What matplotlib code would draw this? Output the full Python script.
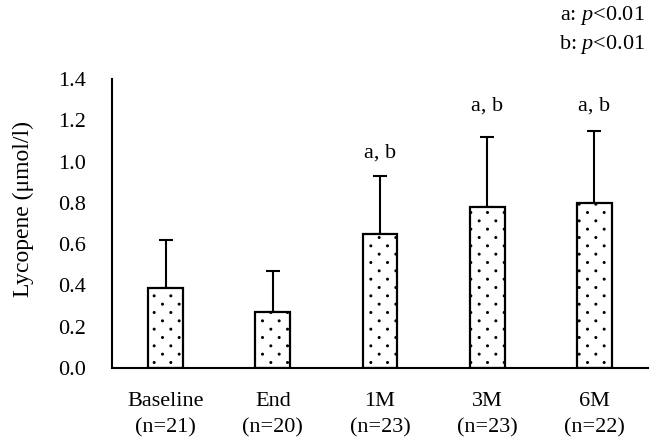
import matplotlib
matplotlib.use("Agg")
import matplotlib.pyplot as plt
import matplotlib.hatch as mhatch
from matplotlib.path import Path
from matplotlib import rcParams

# 数据
groups = ['Baseline\n(n=21)', 'End\n(n=20)', '1M\n(n=23)', '3M\n(n=23)', '6M\n(n=22)']
means = [0.39, 0.27, 0.65, 0.78, 0.80]
sds = [0.23, 0.20, 0.28, 0.34, 0.35]
marks = ['', '', 'a, b', 'a, b', 'a, b']
mark_y = [None, None, 1.022, 1.245, 1.245]
yticks = [0.0, 0.2, 0.4, 0.6, 0.8, 1.0, 1.2, 1.4]


# 稀疏点状填充 (替换默认的 '.' 图案)
class SparseDots(mhatch.HatchPatternBase):
    def __init__(self, hatch, density):
        self.n_rows = 12 if '.' in hatch else 0
        self.n_cols = 6
        circle = Path.unit_circle()
        self.shape_vertices = circle.vertices
        self.shape_codes = circle.codes
        self.num_vertices = self.n_rows * self.n_cols * len(circle.vertices)

    def set_vertices_and_codes(self, vertices, codes):
        r = 0.008
        n = len(self.shape_vertices)
        k = 0
        for row in range(self.n_rows):
            shift = 0.5 / self.n_cols if row % 2 else 0.0
            for col in range(self.n_cols):
                cx = (col + 0.25) / self.n_cols + shift
                cy = (row + 0.5) / self.n_rows
                vertices[k:k + n] = self.shape_vertices * r + [cx, cy]
                codes[k:k + n] = self.shape_codes
                k += n


mhatch._hatch_types = [t for t in mhatch._hatch_types
                       if t is not mhatch.SmallFilledCircles] + [SparseDots]

rcParams['font.family'] = 'Liberation Serif'
rcParams['font.size'] = 16
rcParams['mathtext.fontset'] = 'custom'
rcParams['mathtext.it'] = 'Liberation Serif:italic'
rcParams['mathtext.rm'] = 'Liberation Serif'
rcParams['hatch.linewidth'] = 1.0

fig = plt.figure(figsize=(6.57, 4.41), dpi=100)
ax = fig.add_axes([0.1705, 0.1655, 0.8158, 0.6553])

x = list(range(len(groups)))
ax.bar(x, means, width=0.325, color='white', edgecolor='black', linewidth=1.6,
       hatch='.', zorder=2)
ax.errorbar(x, means, yerr=[[0] * len(sds), sds], fmt='none', ecolor='black',
            elinewidth=1.5, capsize=4.7, capthick=1.5, zorder=1)

# 显著性标记
for xi, t, ty in zip(x, marks, mark_y):
    if t:
        ax.text(xi, ty, t, ha='center', va='baseline', fontsize=16)

ax.set_xlim(-0.5, 4.5)
ax.set_ylim(0, 1.4)
ax.set_yticks(yticks)
ax.set_yticklabels([f'{v:.1f}' for v in yticks])
ax.set_xticks(x)
ax.set_xticklabels(groups, linespacing=1.5)
ax.tick_params(axis='x', length=0, pad=17)
ax.tick_params(axis='y', length=0, pad=19)
for sp in ['top', 'right']:
    ax.spines[sp].set_visible(False)
for sp in ['left', 'bottom']:
    ax.spines[sp].set_linewidth(1.5)
ax.set_ylabel('Lycopene (μmol/l)', fontsize=17)
ax.yaxis.set_label_coords(-0.145, 0.55)

fig.text(0.982, 0.964, 'a: $p$<0.01', ha='right', va='center', fontsize=16)
fig.text(0.982, 0.900, 'b: $p$<0.01', ha='right', va='center', fontsize=16)

plt.savefig('out.png', dpi=100)
